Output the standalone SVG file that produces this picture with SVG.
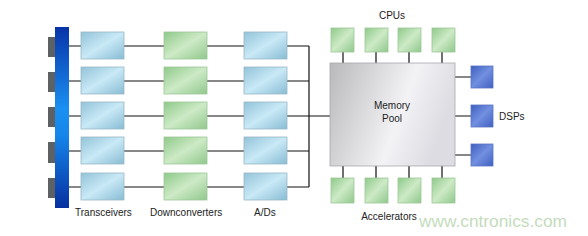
<svg xmlns="http://www.w3.org/2000/svg" width="588" height="236" viewBox="0 0 588 236">
<defs>
<linearGradient id="gBar" x1="0" y1="0" x2="0" y2="1">
<stop offset="0" stop-color="#0733a8"/>
<stop offset="0.45" stop-color="#1a90f2"/>
<stop offset="0.6" stop-color="#1585ea"/>
<stop offset="1" stop-color="#0630a0"/>
</linearGradient>
<linearGradient id="gBlue" x1="0" y1="0" x2="1" y2="1">
<stop offset="0" stop-color="#92c3d9"/>
<stop offset="0.5" stop-color="#c9e9f6"/>
<stop offset="1" stop-color="#88bcd4"/>
</linearGradient>
<linearGradient id="gGreen" x1="0" y1="0" x2="1" y2="1">
<stop offset="0" stop-color="#8fc98a"/>
<stop offset="0.5" stop-color="#cdeac6"/>
<stop offset="1" stop-color="#90c88c"/>
</linearGradient>
<linearGradient id="gDsp" x1="0" y1="0" x2="1" y2="1">
<stop offset="0" stop-color="#3f5fc0"/>
<stop offset="0.5" stop-color="#7190e0"/>
<stop offset="1" stop-color="#4060c2"/>
</linearGradient>
<linearGradient id="gPool" x1="0" y1="0" x2="1" y2="0.3">
<stop offset="0" stop-color="#b9b9bb"/>
<stop offset="0.65" stop-color="#f3f3f6"/>
<stop offset="1" stop-color="#dcdce2"/>
</linearGradient>
</defs>
<style>
.ln{stroke:#111;stroke-width:1.2;fill:none}
.tab{fill:#5d6163}
.tx{fill:url(#gBlue);stroke:#9ab8c6;stroke-width:0.8}
.gr{fill:url(#gGreen);stroke:#9cc898;stroke-width:0.8}
.ds{fill:url(#gDsp);stroke:#5a74c4;stroke-width:0.8}
.lbl{font-family:"Liberation Sans",Arial,sans-serif;font-size:10px;fill:#222}
</style>
<rect width="588" height="236" fill="#fff"/>
<g id="connectors">
<path class="ln" d="M69 46H81M69 81H81M69 116H81M69 151H81M69 187H81"/>
<path class="ln" d="M124 46H164M124 81H164M124 116H164M124 151H164M124 187H164"/>
<path class="ln" d="M207 46H244M207 81H244M207 116H244M207 151H244M207 187H244"/>
<path class="ln" d="M287 46H309M287 81H309M287 116H309M287 151H309M287 187H309M309 46V187M309 116H330"/>
<path class="ln" d="M343 52V63M376 52V63M409 52V63M442 52V63"/>
<path class="ln" d="M343 166V178M376 166V178M409 166V178M442 166V178"/>
<path class="ln" d="M455 77H471M455 116H471M455 155H471"/>
</g>
<g id="antennas">
<rect class="tab" x="48" y="37" width="7" height="20"/>
<rect class="tab" x="48" y="72" width="7" height="20"/>
<rect class="tab" x="48" y="107" width="7" height="20"/>
<rect class="tab" x="48" y="142" width="7" height="21"/>
<rect class="tab" x="48" y="178" width="7" height="20"/>
</g>
<g id="bus"><rect x="55" y="27" width="14" height="181" fill="url(#gBar)"/></g>
<g id="transceivers">
<rect class="tx" x="81" y="32" width="43" height="27"/>
<rect class="tx" x="81" y="67" width="43" height="27"/>
<rect class="tx" x="81" y="102" width="43" height="27"/>
<rect class="tx" x="81" y="137" width="43" height="27"/>
<rect class="tx" x="81" y="173" width="43" height="27"/>
<text class="lbl" x="75" y="216">Transceivers</text>
</g>
<g id="downconverters">
<rect class="gr" x="164" y="32" width="43" height="27"/>
<rect class="gr" x="164" y="67" width="43" height="27"/>
<rect class="gr" x="164" y="102" width="43" height="27"/>
<rect class="gr" x="164" y="137" width="43" height="27"/>
<rect class="gr" x="164" y="173" width="43" height="27"/>
<text class="lbl" x="150" y="216">Downconverters</text>
</g>
<g id="ads">
<rect class="tx" x="244" y="32" width="43" height="27"/>
<rect class="tx" x="244" y="67" width="43" height="27"/>
<rect class="tx" x="244" y="102" width="43" height="27"/>
<rect class="tx" x="244" y="137" width="43" height="27"/>
<rect class="tx" x="244" y="173" width="43" height="27"/>
<text class="lbl" x="254" y="216">A/Ds</text>
</g>
<g id="memory-pool">
<rect x="330" y="63" width="125" height="103" fill="url(#gPool)" stroke="#a8a8ac" stroke-width="0.8"/>
<text class="lbl" x="392" y="109" text-anchor="middle">Memory</text>
<text class="lbl" x="392" y="122" text-anchor="middle">Pool</text>
</g>
<g id="cpus">
<rect class="gr" x="331" y="28" width="23" height="24"/>
<rect class="gr" x="365" y="28" width="23" height="24"/>
<rect class="gr" x="398" y="28" width="23" height="24"/>
<rect class="gr" x="432" y="28" width="23" height="24"/>
<text class="lbl" x="392" y="19" text-anchor="middle">CPUs</text>
</g>
<g id="accelerators">
<rect class="gr" x="331" y="178" width="23" height="25"/>
<rect class="gr" x="365" y="178" width="23" height="25"/>
<rect class="gr" x="398" y="178" width="23" height="25"/>
<rect class="gr" x="432" y="178" width="23" height="25"/>
<text class="lbl" x="389" y="220" text-anchor="middle">Accelerators</text>
</g>
<g id="dsps">
<rect class="ds" x="471" y="66" width="22" height="22"/>
<rect class="ds" x="471" y="105" width="22" height="22"/>
<rect class="ds" x="471" y="144" width="22" height="22"/>
<text class="lbl" x="499" y="120">DSPs</text>
</g>
<text x="419" y="227" font-family="'Liberation Sans',Arial,sans-serif" font-size="17.3" fill="#c4dcbc">www.cntronics.com</text>
</svg>
